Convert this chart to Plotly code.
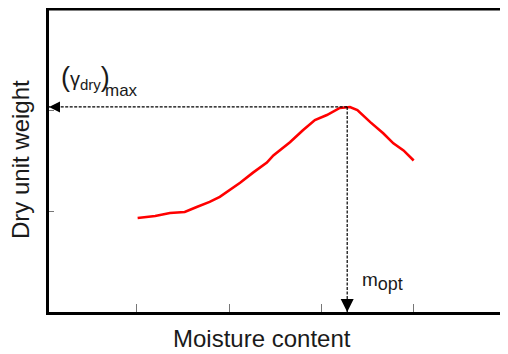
import plotly.graph_objects as go

# --- data ---
moisture = [1.01, 1.20, 1.36, 1.52, 1.65, 1.79, 1.90, 2.01, 2.12, 2.26, 2.41, 2.48, 2.66, 2.80,
            2.93, 3.06, 3.20, 3.31, 3.39, 3.53, 3.67, 3.78, 3.89, 4.00]
dry_unit_weight = [0.93, 0.95, 0.98, 0.99, 1.04, 1.09, 1.14, 1.21, 1.28, 1.38, 1.48, 1.55, 1.68, 1.80,
                   1.90, 1.95, 2.02, 2.03, 2.00, 1.88, 1.77, 1.67, 1.60, 1.50]
x_tick_values = [1, 2, 3, 4]
y_tick_values = [1, 2]
opt_moisture = 3.28
max_dry_weight = max(dry_unit_weight)
x_title = "Moisture content"
y_title = "Dry unit weight"

x_range = [0.05, 5.0]
y_range = [0, 3]

FONT = "Liberation Sans, Arial, sans-serif"
TXT = "#1a1a1a"

# page offset: the browser's default body margin is 8px
PW, PH = 457, 303          # plot area size (px)


def px_x(page_x):
    return (page_x - 49) / PW


def px_y(page_y):
    return (312 - page_y) / PH


fig = go.Figure()
fig.add_trace(go.Scatter(
    x=moisture, y=dry_unit_weight, mode="lines",
    line=dict(color="#ff0000", width=2.6), showlegend=False, hoverinfo="skip"))

# dashed guide lines
fig.add_shape(type="line", xref="x", yref="y",
              x0=opt_moisture, x1=x_range[0], y0=max_dry_weight, y1=max_dry_weight,
              line=dict(color="black", width=1.2, dash="3px,1.5px"))
fig.add_shape(type="line", xref="x", yref="y",
              x0=opt_moisture, x1=opt_moisture, y0=max_dry_weight, y1=y_range[0],
              line=dict(color="black", width=1.2, dash="3px,1.5px"))

# frame: top (thick) and right (thin grey)
fig.add_shape(type="line", xref="paper", yref="paper", x0=px_x(46), x1=1, y0=1.0, y1=1.0,
              line=dict(color="black", width=3))
fig.add_shape(type="line", xref="paper", yref="paper", x0=1, x1=1, y0=0, y1=1.0,
              line=dict(color="#333333", width=1.6))

# arrowheads
fig.add_annotation(xref="paper", yref="y", x=0, y=max_dry_weight, ax=11, ay=0,
                   showarrow=True, arrowhead=2, arrowsize=2.2, arrowwidth=1,
                   arrowcolor="black", text="", standoff=0)
fig.add_annotation(xref="x", yref="paper", x=opt_moisture, y=0, ax=0, ay=-13,
                   showarrow=True, arrowhead=2, arrowsize=2.6, arrowwidth=1,
                   arrowcolor="black", text="", standoff=0)

# labels
fig.add_annotation(xref="paper", yref="paper", x=px_x(59), y=px_y(95),
                   xanchor="left", yanchor="bottom", showarrow=False,
                   text="<span style='font-size:27px'>(</span>γ<sub><span style='font-size:15px'>dry</span></sub><span style='font-size:27px'>)</span>",
                   font=dict(family=FONT, size=20, color=TXT))
fig.add_annotation(xref="paper", yref="paper", x=px_x(103), y=px_y(102),
                   xanchor="left", yanchor="bottom", showarrow=False,
                   text="max", font=dict(family=FONT, size=17, color=TXT))
fig.add_annotation(xref="x", yref="paper", x=opt_moisture, y=0, xshift=13, yshift=16,
                   xanchor="left", yanchor="bottom", showarrow=False,
                   text="m<sub><span style='font-size:18px'>opt</span></sub>",
                   font=dict(family=FONT, size=19, color=TXT))

# axis titles
fig.add_annotation(xref="paper", yref="paper", x=px_x(262), y=px_y(338),
                   xanchor="center", yanchor="middle", showarrow=False,
                   text=x_title, font=dict(family=FONT, size=24, color=TXT))
fig.add_annotation(xref="paper", yref="paper", x=px_x(20), y=px_y(160),
                   xanchor="center", yanchor="middle", showarrow=False, textangle=-90,
                   text=y_title, font=dict(family=FONT, size=24, color=TXT))

fig.update_xaxes(range=x_range, tickvals=x_tick_values, showticklabels=False,
                 ticks="inside", ticklen=8, tickwidth=1, tickcolor="#777777",
                 showline=True, linewidth=3, linecolor="black",
                 showgrid=False, zeroline=False, automargin=False)
fig.update_yaxes(range=y_range, tickvals=y_tick_values, showticklabels=False,
                 ticks="inside", ticklen=5, tickwidth=1, tickcolor="#777777",
                 showline=True, linewidth=3, linecolor="black",
                 showgrid=False, zeroline=False, automargin=False)

fig.update_layout(width=500, height=346,
                  margin=dict(l=41, r=2, t=1, b=42, autoexpand=False),
                  plot_bgcolor="white", paper_bgcolor="white",
                  font=dict(family=FONT, color=TXT))

fig.write_html("out.html")
